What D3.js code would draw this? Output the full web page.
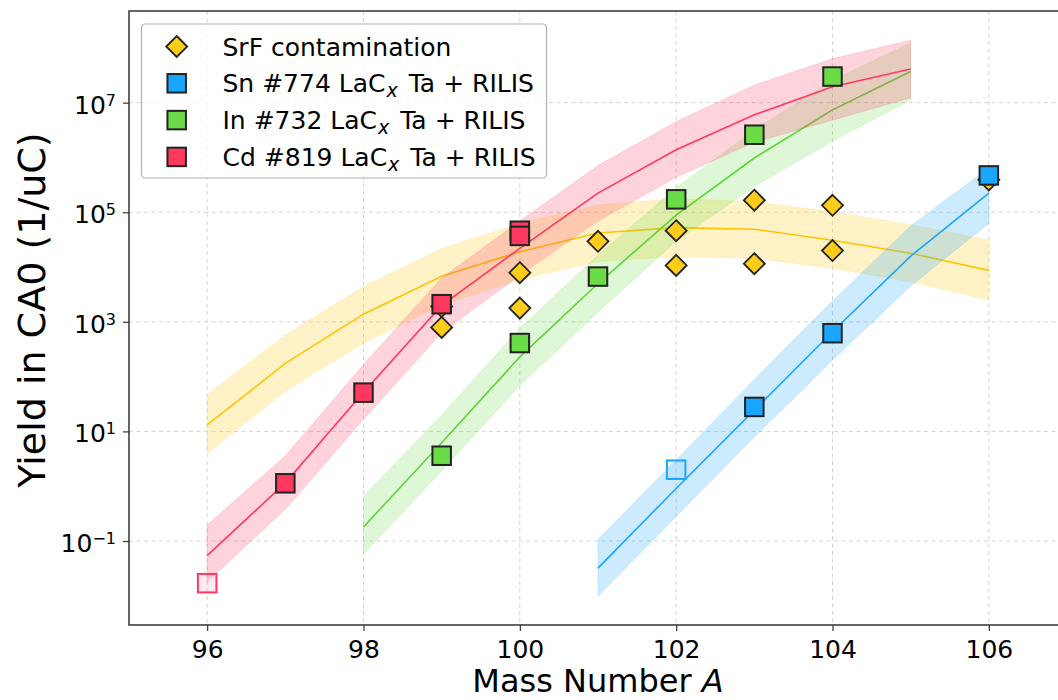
<!DOCTYPE html>
<html>
<head>
<meta charset="utf-8">
<script src="https://cdn.jsdelivr.net/npm/d3@7"></script>
<style>
  html, body { margin: 0; padding: 0; background: #fff; }
  svg { display: block; font-family: "DejaVu Sans", sans-serif; }
</style>
</head>
<body>
<svg id="chart" width="1058" height="700"></svg>
<script>
// --- data ---
// SrF contamination (diamonds) and its fit band
const srfMass = [99, 99, 100, 100, 101, 102, 102, 103, 103, 104, 104, 106];
const srfYield = [1900, 790, 7900, 1780, 29500, 46000, 10700, 166000, 11500, 134000, 20000, 390000];
const srfFitMass = [96, 97, 98, 99, 100, 101, 102, 103, 104, 105, 106];
const srfFit = [13.2, 174, 1380, 6760, 19000, 41700, 52500, 49000, 30900, 17800, 8700];
const srfLow = [4.0, 54, 410, 2040, 5900, 12600, 15500, 14500, 9500, 5400, 2500];
const srfHigh = [47, 575, 4400, 21900, 63000, 135000, 178000, 155000, 102000, 60000, 31000];

// Sn #774
const snMass = [102, 103, 104, 106];
const snYield = [2.0, 28, 620, 470000];
const snOpen = [true, false, false, false];
const snFitMass = [101, 102, 103, 104, 105, 106];
const snFit = [0.032, 0.91, 24.5, 660, 15800, 224000];
const snLow = [0.0098, 0.28, 7.9, 200, 4500, 63000];
const snHigh = [0.107, 3.0, 89, 2400, 56000, 646000];

// In #732
const inMass = [99, 100, 101, 102, 103, 104];
const inYield = [3.6, 410, 6700, 172000, 2.6e6, 3.0e7];
const inOpen = [false, false, false, false, false, false];
const inFitMass = [98, 99, 100, 101, 102, 103, 104, 105];
const inFit = [0.18, 6.2, 229, 5000, 89000, 977000, 7.4e6, 3.7e7];
const inLow = [0.058, 1.9, 69, 1500, 29500, 295000, 2.0e6, 1.12e7];
const inHigh = [0.65, 20, 760, 16600, 282000, 3.2e6, 2.6e7, 1.23e8];

// Cd #819
const cdMass = [96, 97, 98, 99, 100, 100];
const cdYield = [0.017, 1.13, 51, 2100, 46000, 37000];
const cdOpen = [true, false, false, false, false, false];
const cdFitMass = [96, 97, 98, 99, 100, 101, 102, 103, 104, 105];
const cdFit = [0.054, 1.15, 52, 2000, 21900, 224000, 1.38e6, 6.0e6, 1.95e7, 4.1e7];
const cdLow = [0.018, 0.38, 16.6, 630, 7100, 69000, 436000, 1.9e6, 4.8e6, 1.23e7];
const cdHigh = [0.195, 3.6, 166, 6300, 69000, 710000, 4.5e6, 2.1e7, 6.3e7, 1.38e8];

const xTicks = [96, 98, 100, 102, 104, 106];
const yTicks = [1e-1, 1e1, 1e3, 1e5, 1e7];

const colors = { srf: "#ffcc1a", sn: "#1aa6ff", inn: "#6bdb47", cd: "#ff3860" };
const lineColors = { srf: "#ffc400", sn: "#1aa6ff", inn: "#5fd23a", cd: "#ff3860" };

const series = [
  { key: "sn", fm: snFitMass, fit: snFit, lo: snLow, hi: snHigh, mass: snMass, yld: snYield, open: snOpen },
  { key: "inn", fm: inFitMass, fit: inFit, lo: inLow, hi: inHigh, mass: inMass, yld: inYield, open: inOpen },
  { key: "cd", fm: cdFitMass, fit: cdFit, lo: cdLow, hi: cdHigh, mass: cdMass, yld: cdYield, open: cdOpen }
];

const legendItems = [
  { key: "srf", shape: "diamond", label: ["SrF contamination"] },
  { key: "sn", shape: "square", label: ["Sn #774 LaC", "x", "Ta + RILIS"] },
  { key: "inn", shape: "square", label: ["In #732 LaC", "x", "Ta + RILIS"] },
  { key: "cd", shape: "square", label: ["Cd #819 LaC", "x", "Ta + RILIS"] }
];

// --- layout ---
const plot = { left: 129, top: 11, bottom: 625, right: 1067 };
const svg = d3.select("#chart");

const x = d3.scaleLinear().domain([95, 107]).range([plot.left, plot.right]);
const y = d3.scaleLog().domain([Math.pow(10, -2.533), Math.pow(10, 8.673)]).range([plot.bottom, plot.top]);

svg.append("defs").append("clipPath").attr("id", "clip")
  .append("rect")
  .attr("x", plot.left).attr("y", plot.top)
  .attr("width", plot.right - plot.left).attr("height", plot.bottom - plot.top);

// grid
const grid = svg.append("g").attr("stroke", "#d4d4d4").attr("stroke-width", 1).attr("stroke-dasharray", "4,3.5");
grid.selectAll(".gx").data(xTicks).join("line")
  .attr("x1", d => x(d)).attr("x2", d => x(d))
  .attr("y1", plot.top).attr("y2", plot.bottom);
grid.selectAll(".gy").data(yTicks).join("line")
  .attr("x1", plot.left).attr("x2", plot.right)
  .attr("y1", d => y(d)).attr("y2", d => y(d));

const g = svg.append("g").attr("clip-path", "url(#clip)");

// bands
const area = (s) => d3.area()
  .x((d, i) => x(s.fm[i]))
  .y0((d, i) => y(s.lo[i]))
  .y1((d, i) => y(s.hi[i]));
const line = (s) => d3.line()
  .x((d, i) => x(s.fm[i]))
  .y((d, i) => y(s.fit[i]));

const srfSeries = { key: "srf", fm: srfFitMass, fit: srfFit, lo: srfLow, hi: srfHigh };
const allFits = [srfSeries, ...series];

allFits.forEach(s => {
  g.append("path")
    .datum(s.fit)
    .attr("fill", colors[s.key])
    .attr("fill-opacity", s.key === "srf" ? 0.25 : 0.22)
    .attr("stroke", colors[s.key])
    .attr("stroke-opacity", 0.15)
    .attr("d", area(s));
  g.append("path")
    .datum(s.fit)
    .attr("fill", "none")
    .attr("stroke", lineColors[s.key])
    .attr("stroke-width", 1.6)
    .attr("d", line(s));
});

// markers
const diamond = (cx, cy, r) => `M${cx},${cy - r}L${cx + r},${cy}L${cx},${cy + r}L${cx - r},${cy}Z`;

g.selectAll(".srf").data(srfMass).join("path")
  .attr("d", (d, i) => diamond(x(d), y(srfYield[i]), 10.5))
  .attr("fill", colors.srf)
  .attr("stroke", "#222")
  .attr("stroke-width", 1.8);

const sq = 18.5;
series.forEach(s => {
  g.selectAll(".m-" + s.key).data(s.mass).join("rect")
    .attr("x", d => x(d) - sq / 2)
    .attr("y", (d, i) => y(s.yld[i]) - sq / 2)
    .attr("width", sq).attr("height", sq)
    .attr("fill", (d, i) => s.open[i] ? d3.color(colors[s.key]).copy({ opacity: 0.1 }) : colors[s.key])
    .attr("stroke", (d, i) => s.open[i] ? colors[s.key] : "#222")
    .attr("stroke-width", 2);
});

// axes
const axisFont = 25;
const xAxis = svg.append("g")
  .attr("transform", `translate(0,${plot.bottom})`)
  .call(d3.axisBottom(x).tickValues(xTicks).tickSize(6).tickPadding(9).tickFormat(d3.format("d")));
xAxis.select(".domain").remove();
xAxis.selectAll("line").attr("stroke", "#333").attr("stroke-width", 1.2);
xAxis.selectAll("text").attr("font-size", axisFont).attr("font-family", "DejaVu Sans").attr("fill", "#000");

const supers = { "-1": "\u22121", "1": "1", "3": "3", "5": "5", "7": "7" };
const yAxis = svg.append("g")
  .attr("transform", `translate(${plot.left},0)`)
  .call(d3.axisLeft(y).tickValues(yTicks).tickSize(6).tickPadding(7).tickFormat(() => ""));
yAxis.select(".domain").remove();
yAxis.selectAll("line").attr("stroke", "#333").attr("stroke-width", 1.2);
yAxis.selectAll("text").each(function (d) {
  const t = d3.select(this)
    .attr("font-size", axisFont).attr("font-family", "DejaVu Sans").attr("fill", "#000")
    .attr("dy", "0.42em");
  t.text("10");
  t.append("tspan").attr("font-size", 16).attr("dy", -8)
    .text(supers[String(Math.round(Math.log10(d)))]);
});

// spines (right one falls outside the picture)
const spine = svg.append("g").attr("stroke", "#333").attr("stroke-width", 1.5).attr("fill", "none");
spine.append("path").attr("d", `M${plot.right},${plot.top}H${plot.left}V${plot.bottom}H${plot.right}`);

// axis titles
svg.append("text")
  .attr("x", (plot.left + plot.right) / 2)
  .attr("y", 692)
  .attr("text-anchor", "middle")
  .attr("font-size", 32)
  .text("Mass Number ")
  .append("tspan").attr("font-style", "italic").text("A");

svg.append("text")
  .attr("transform", `translate(45,${(plot.top + plot.bottom) / 2 - 8}) rotate(-90)`)
  .attr("text-anchor", "middle")
  .attr("font-size", 38)
  .text("Yield in CA0 (1/uC)");

// legend
const lg = svg.append("g");
lg.append("rect")
  .attr("x", 141.5).attr("y", 24)
  .attr("width", 405).attr("height", 154)
  .attr("rx", 4)
  .attr("fill", "#fff").attr("fill-opacity", 0.8)
  .attr("stroke", "#b0b0b0").attr("stroke-width", 1.2);

legendItems.forEach((item, i) => {
  const cy = 46.5 + i * 36.8;
  if (item.shape === "diamond") {
    lg.append("path").attr("d", diamond(176.7, cy, 10.5))
      .attr("fill", colors[item.key]).attr("stroke", "#222").attr("stroke-width", 1.8);
  } else {
    lg.append("rect").attr("x", 176.7 - sq / 2).attr("y", cy - sq / 2)
      .attr("width", sq).attr("height", sq)
      .attr("fill", colors[item.key]).attr("stroke", "#222").attr("stroke-width", 2);
  }
  const t = lg.append("text").attr("x", 222.5).attr("y", cy + 9).attr("font-size", 25);
  t.append("tspan").text(item.label[0]);
  if (item.label.length > 1) {
    t.append("tspan").attr("font-style", "italic").attr("font-size", 19).attr("dx", 1).attr("dy", 5).text(item.label[1]);
    t.append("tspan").attr("dx", 11).attr("dy", -5).text(item.label[2]);
  }
});
</script>
</body>
</html>
